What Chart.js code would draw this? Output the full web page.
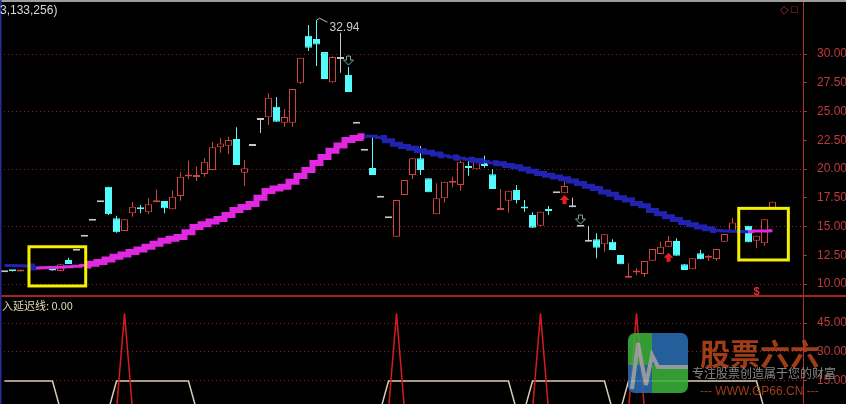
<!DOCTYPE html>
<html>
<head>
<meta charset="utf-8">
<script src="https://cdn.jsdelivr.net/npm/chart.js@4.4.1/dist/chart.umd.min.js"></script>
<style>
  html, body { margin: 0; padding: 0; background: #000; overflow: hidden; }
  #wrap { position: relative; width: 846px; height: 404px; background: #000; font-family: "Liberation Sans", Arial, sans-serif; }
  #main { position: absolute; left: 0; top: 0; }
  #sub { position: absolute; left: 0; top: 297px; }
  .txt { position: absolute; white-space: nowrap; line-height: 1; }
</style>
</head>
<body>
<div id="wrap">
  <canvas id="main" width="846" height="297"></canvas>
  <canvas id="sub" width="846" height="107"></canvas>
  <div class="txt" style="left:0;top:4px;color:#d8d8d8;font-size:12px;">3,133,256)</div>
  <div class="txt" style="left:780px;top:4px;color:#c03030;font-size:11px;">◇ □</div>
  <div class="txt" style="left:2px;top:300px;color:#e4dcb8;font-size:11px;font-family:'Noto Sans CJK SC';">入延迟线: 0.00</div>

  <!-- watermark -->
  <div id="wm" style="position:absolute;left:628px;top:333px;width:215px;height:66px;opacity:0.88;">
    <div style="position:absolute;left:0;top:0;width:60px;height:60px;border-radius:7px;overflow:hidden;">
      <div style="position:absolute;left:0;top:0;width:24px;height:32px;background:#3cb03c;"></div>
      <div style="position:absolute;left:24px;top:0;width:36px;height:32px;background:#2a6db2;"></div>
      <div style="position:absolute;left:0;top:32px;width:24px;height:28px;background:#2a6db2;"></div>
      <div style="position:absolute;left:24px;top:32px;width:36px;height:28px;background:#3cb03c;"></div>
      <svg width="60" height="60" style="position:absolute;left:0;top:0;">
        <polyline points="4,56 10,10 18,52 24,22 30,34 60,34" fill="none" stroke="#a8b0b0" stroke-width="4"/>
      </svg>
    </div>
    <div class="txt" style="left:72px;top:4px;font-size:30px;font-weight:bold;color:#b8461a;font-family:'Noto Sans CJK SC';">股票六六</div>
    <div class="txt" style="left:64px;top:34px;font-size:12px;color:#9a9a9a;font-family:'Noto Sans CJK SC';">专注股票创造属于您的财富</div>
    <div class="txt" style="left:72px;top:52px;font-size:12px;color:#b8461a;">--- WWW.GP66.CN ---</div>
  </div>
</div>

<script>
// ---- data ----
const openP = [11.02, 11.16, 11.08, null, 11.28, 11.38, 11.25, 11.13, 12.09, 12.90,
  14.11, 15.50, 17.10, 18.46, 15.71, 14.60, 16.15, 16.54, 16.23, 17.12,
  17.22, 16.50, 17.65, 19.35, 19.30, 19.57, 19.91, 21.89, 22.03, 22.61,
  19.68, 22.00, 24.26, 24.50, 25.42, 24.03, 24.03, 27.50, 31.59, 31.30,
  30.17, 27.54, 29.57, 28.17, 23.94, 21.59, 20.09, 17.50, 15.71, 14.11,
  17.74, 19.48, 20.93, 19.19, 16.06, 17.45, 18.80, 18.61, 20.14, 19.97,
  20.58, 19.54, 16.43, 17.24, 18.17, 16.60, 16.00, 15.07, 16.39, 17.89,
  17.89, 16.67, 14.98, 13.68, 13.89, 13.45, 13.68, 12.52, 10.55, 11.00,
  10.87, 12.03, 12.61, 13.24, 13.74, 11.71, 11.28, 12.67, 12.28, 12.17,
  13.68, 14.61, null, 15.07, 13.77, 13.54, 16.58];
const highP = [11.02, 11.18, 11.20, null, 11.28, 11.40, 11.30, 11.71, 12.29, 12.90,
  14.11, 15.50, 17.10, 18.46, 15.94, 15.65, 17.13, 16.87, 17.45, 18.23,
  17.22, 18.11, 19.71, 20.72, 20.20, 20.93, 22.37, 22.72, 22.81, 23.63,
  20.78, 22.00, 24.26, 26.60, 26.26, 25.22, 26.96, 29.68, 32.52, 32.94,
  30.17, 29.80, 31.85, 28.87, 23.94, 21.59, 22.81, 17.50, 15.71, 17.30,
  19.04, 20.93, 22.00, 19.19, 18.76, 18.90, 19.33, 20.72, 20.70, 20.58,
  21.16, 19.97, 18.26, 18.11, 18.61, 17.30, 16.23, 16.29, 16.78, 17.89,
  19.19, 17.50, 14.98, 15.04, 14.41, 14.32, 13.89, 12.52, 11.80, 11.37,
  12.00, 13.04, 13.68, 14.17, 13.98, 11.71, 12.23, 12.96, 12.52, 13.04,
  14.35, 15.77, null, 15.07, 14.20, 15.63, 17.16];
const lowP = [11.02, 11.08, 11.08, null, 11.28, 11.30, 11.15, 11.10, 11.74, 12.90,
  14.11, 15.50, 17.10, 16.00, 14.45, 14.60, 15.85, 16.15, 16.09, 17.10,
  16.15, 16.50, 17.24, 19.13, 18.96, 19.33, 19.90, 21.42, 21.28, 20.35,
  18.52, 22.00, 23.13, 23.83, 24.11, 23.68, 23.68, 27.39, 30.26, 28.96,
  27.83, 27.50, 28.37, 26.70, 23.94, 21.59, 19.48, 17.50, 15.71, 14.11,
  17.74, 19.13, 19.48, 17.97, 16.06, 17.07, 18.41, 18.11, 19.42, 19.97,
  20.11, 18.26, 16.43, 16.20, 17.00, 16.29, 14.90, 15.07, 16.00, 17.89,
  17.89, 16.67, 14.98, 13.68, 12.23, 12.80, 12.96, 11.71, 10.55, 10.78,
  10.63, 12.03, 12.61, 13.24, 12.46, 11.22, 11.28, 12.15, 12.00, 12.03,
  13.68, 14.61, null, 13.63, 13.10, 13.30, 16.58];
const closeP = [11.02, 11.10, 11.20, null, 11.28, 11.34, 11.18, 11.71, 11.74, 12.90,
  14.11, 15.50, 17.10, 16.06, 14.50, 15.63, 16.72, 16.50, 16.93, 17.20,
  16.58, 17.59, 19.33, 19.50, 19.38, 20.63, 21.89, 22.23, 22.52, 20.35,
  20.06, 22.00, 24.26, 26.20, 24.11, 24.52, 26.96, 29.68, 30.55, 30.84,
  27.83, 29.74, 29.57, 26.70, 23.94, 21.59, 19.48, 17.50, 15.71, 17.30,
  19.04, 20.93, 19.91, 17.97, 17.45, 18.90, 18.88, 20.58, 20.08, 20.58,
  20.26, 18.26, 16.48, 18.11, 17.30, 16.56, 14.90, 16.29, 16.35, 17.89,
  18.52, 16.67, 14.98, 13.68, 13.16, 14.32, 12.96, 11.71, 10.60, 11.04,
  12.00, 13.04, 13.24, 13.74, 12.46, 11.22, 12.23, 12.15, 12.32, 13.04,
  14.35, 15.36, null, 13.63, 14.20, 15.63, 17.16];
// moving line (magenta while rising, blue while falling)
const trendLine = [11.60, 11.60, 11.58, 11.56, 11.40, 11.42, 11.44, 11.46, 11.50, 11.54,
  11.62, 11.76, 11.91, 12.14, 12.37, 12.57, 12.78, 13.00, 13.24, 13.50,
  13.77, 13.93, 14.09, 14.50, 14.96, 15.20, 15.43, 15.65, 16.00, 16.43,
  16.70, 16.96, 17.50, 18.09, 18.30, 18.46, 18.90, 19.40, 19.91, 20.52,
  21.05, 21.59, 22.05, 22.52, 22.70, 22.85, 22.84, 22.75, 22.45, 22.15,
  21.95, 21.80, 21.60, 21.45, 21.30, 21.15, 21.05, 20.93, 20.85, 20.75,
  20.65, 20.55, 20.45, 20.30, 20.20, 20.00, 19.80, 19.60, 19.45, 19.30,
  19.15, 18.95, 18.75, 18.50, 18.30, 18.00, 17.80, 17.50, 17.30, 17.00,
  16.80, 16.40, 16.10, 15.85, 15.60, 15.35, 15.15, 14.95, 14.80, 14.65,
  14.60, 14.58, 14.56, 14.55, 14.60, 14.62, 14.64];
// lower panel
const spikeLine = [0, 0, 0, 0, 0, 0, 0, 0, 0, 0,
  0, 0, 0, 0, 0, 50, 0, 0, 0, 0,
  0, 0, 0, 0, 0, 0, 0, 0, 0, 0,
  0, 0, 0, 0, 0, 0, 0, 0, 0, 0,
  0, 0, 0, 0, 0, 0, 0, 0, 0, 50,
  0, 0, 0, 0, 0, 0, 0, 0, 0, 0,
  0, 0, 0, 0, 0, 0, 0, 50, 0, 0,
  0, 0, 0, 0, 0, 0, 0, 0, 0, 50,
  0, 0, 0, 0, 0, 0, 0, 0, 0, 0,
  0, 0, 0, 0, 0, 0, 0];
const delayLine = [15, 15, 15, 15, 15, 15, 15, 0, 0, 0,
  0, 0, 0, 0, 15, 15, 15, 15, 15, 15,
  15, 15, 15, 15, 0, 0, 0, 0, 0, 0,
  0, 0, 0, 0, 0, 0, 0, 0, 0, 0,
  0, 0, 0, 0, 0, 0, 0, 0, 15, 15,
  15, 15, 15, 15, 15, 15, 15, 15, 15, 15,
  15, 15, 15, 15, 0, 0, 15, 15, 15, 15,
  15, 15, 15, 15, 15, 15, 0, 0, 15, 15,
  15, 15, 15, 15, 15, 15, 15, 15, 15, 15,
  15, 15, 15, 15, 15, 0, 0];

const mainTicks = [10, 12.5, 15, 17.5, 20, 22.5, 25, 27.5, 30];
const mainGrid = [10, 15, 20, 25, 30];
const subTicks = [15, 30, 45];

const upArrowIdx = [70, 83];
const upArrowTip = [17.74, 12.72];
const downArrowIdx = [43, 72];
const downArrowTip = [29.04, 15.22];
const peakIdx = 39;
const dollarIdx = 94;
// highlighted ranges: [from index, to index, low price, high price]
const boxes = [[3.06, 10.15, 9.83, 13.24], [91.78, 97.98, 12.09, 16.58]];

// ---- colours ----
const RED = '#d04444', CYAN = '#54fcfc', GRAY = '#c8c8c8';
const MAGENTA = '#e028e0', BLUE = '#2222b0';

const days = openP.map((v, i) => i).filter(i => openP[i] !== null);
const kind = i => closeP[i] > openP[i] ? 'up' : (closeP[i] < openP[i] ? 'down' : 'flat');
const lineCol = i => ({up: RED, down: CYAN, flat: GRAY})[kind(i)];

const xScale = {type: 'linear', display: false, offset: false, min: -0.5625, max: 99.8125};

function yAxis(min, max, ticksArr, gridArr) {
  return {
    type: 'linear', position: 'right', min: min, max: max,
    afterBuildTicks: s => { s.ticks = ticksArr.map(v => ({value: v})); },
    afterFit: s => { s.width = 43; s.paddingTop = 0; s.paddingBottom = 0; },
    ticks: {color: '#c03a3a', font: {family: 'Liberation Sans', size: 12}, padding: 10,
            callback: v => Number(v).toFixed(2)},
    grid: {color: c => (c.tick && gridArr.includes(c.tick.value)) ? '#8c2222' : 'rgba(0,0,0,0)',
           tickColor: '#b03030', tickLength: 4, lineWidth: 1},
    border: {color: '#b03030', width: 1, dash: [1, 3]}
  };
}

const framePlugin = {
  id: 'frame',
  afterDraw(chart, args, opts) {
    const {ctx, chartArea: a} = chart;
    ctx.save();
    ctx.setLineDash([]);
    if (opts.top) {
      ctx.strokeStyle = '#9c9c9c'; ctx.lineWidth = 2;
      ctx.beginPath(); ctx.moveTo(0, 1); ctx.lineTo(chart.width, 1); ctx.stroke();
    }
    if (opts.bottom) {
      ctx.strokeStyle = '#a82222'; ctx.lineWidth = 2;
      ctx.beginPath(); ctx.moveTo(0, a.bottom - 1); ctx.lineTo(chart.width, a.bottom - 1); ctx.stroke();
    }
    ctx.strokeStyle = '#2a2aa0'; ctx.lineWidth = 1.5;
    ctx.beginPath(); ctx.moveTo(0.75, 0); ctx.lineTo(0.75, chart.height); ctx.stroke();
    ctx.restore();
  }
};

const marksPlugin = {
  id: 'marks',
  afterDatasetsDraw(chart) {
    const {ctx, scales: {x, y}} = chart;
    ctx.save();
    // red up arrows
    ctx.fillStyle = '#e42020';
    upArrowIdx.forEach((d, k) => {
      const px = x.getPixelForValue(d), py = y.getPixelForValue(upArrowTip[k]);
      ctx.beginPath();
      ctx.moveTo(px, py); ctx.lineTo(px + 5, py + 5); ctx.lineTo(px + 2, py + 5);
      ctx.lineTo(px + 2, py + 9); ctx.lineTo(px - 2, py + 9); ctx.lineTo(px - 2, py + 5);
      ctx.lineTo(px - 5, py + 5); ctx.closePath(); ctx.fill();
    });
    // hollow down arrows
    ctx.strokeStyle = '#7ea894'; ctx.lineWidth = 1;
    downArrowIdx.forEach((d, k) => {
      const px = x.getPixelForValue(d), py = y.getPixelForValue(downArrowTip[k]);
      ctx.beginPath();
      ctx.moveTo(px, py); ctx.lineTo(px + 5, py - 5); ctx.lineTo(px + 2, py - 5);
      ctx.lineTo(px + 2, py - 9); ctx.lineTo(px - 2, py - 9); ctx.lineTo(px - 2, py - 5);
      ctx.lineTo(px - 5, py - 5); ctx.closePath(); ctx.stroke();
    });
    // peak label
    const hx = x.getPixelForValue(peakIdx), hy = y.getPixelForValue(highP[peakIdx]);
    ctx.strokeStyle = '#bcbcbc'; ctx.lineWidth = 1;
    ctx.beginPath(); ctx.moveTo(hx, hy); ctx.lineTo(hx + 3, hy - 2); ctx.lineTo(hx + 11, hy + 2); ctx.stroke();
    ctx.fillStyle = '#c8c8c8';
    ctx.font = '12px "Liberation Sans"';
    ctx.textBaseline = 'middle'; ctx.textAlign = 'left';
    ctx.fillText(highP[peakIdx].toFixed(2), hx + 13, hy + 7);
    // dollar sign
    ctx.fillStyle = '#e03030';
    ctx.font = 'bold 11px "Liberation Sans"';
    ctx.textAlign = 'center';
    ctx.fillText('$', x.getPixelForValue(dollarIdx), chart.chartArea.bottom - 5);
    // yellow boxes
    ctx.strokeStyle = '#f4f000'; ctx.lineWidth = 3;
    boxes.forEach(b => {
      const x0 = x.getPixelForValue(b[0]), x1 = x.getPixelForValue(b[1]);
      const y0 = y.getPixelForValue(b[3]), y1 = y.getPixelForValue(b[2]);
      ctx.strokeRect(x0, y0, x1 - x0, y1 - y0);
    });
    ctx.restore();
  }
};

new Chart(document.getElementById('main'), {
  type: 'bar',
  data: {
    datasets: [
      {
        type: 'line', order: 0,
        data: trendLine.map((v, i) => ({x: i, y: v})),
        stepped: 'middle', pointRadius: 0, borderWidth: 5, borderColor: MAGENTA,
        segment: {
          borderColor: c => c.p1.parsed.y > c.p0.parsed.y ? MAGENTA : BLUE,
          borderWidth: c => {
            const d = c.p1.parsed.y - c.p0.parsed.y;
            if (Math.abs(d) < 0.1) return 3;
            return d > 0 ? 6 : 5;
          }
        }
      },
      {
        order: 1, grouped: false, barPercentage: 0.875, categoryPercentage: 1,
        data: days.map(i => ({x: i, y: [openP[i], closeP[i]]})),
        backgroundColor: days.map(i => kind(i) === 'up' ? '#000000' : lineCol(i)),
        borderColor: days.map(i => lineCol(i)),
        borderWidth: 1, borderSkipped: false, minBarLength: 2
      },
      {
        order: 2, grouped: false, barPercentage: 0.125, categoryPercentage: 1,
        data: days.map(i => ({x: i, y: [lowP[i], highP[i]]})),
        backgroundColor: days.map(i => lineCol(i)),
        borderWidth: 0
      }
    ]
  },
  options: {
    responsive: false, animation: false,
    layout: {padding: 0},
    plugins: {legend: {display: false}, tooltip: {enabled: false}, frame: {top: true, bottom: true}},
    scales: {x: xScale, y: yAxis(8.87, 34.70, mainTicks, mainGrid)}
  },
  plugins: [framePlugin, marksPlugin]
});

new Chart(document.getElementById('sub'), {
  type: 'line',
  data: {
    datasets: [
      {data: spikeLine.map((v, i) => ({x: i, y: v})), borderColor: '#d41c1c', borderWidth: 1.5, pointRadius: 0, order: 0},
      {data: delayLine.map((v, i) => ({x: i, y: v})), borderColor: '#d8cbb2', borderWidth: 1.5, pointRadius: 0, order: 1}
    ]
  },
  options: {
    responsive: false, animation: false,
    layout: {padding: 0},
    plugins: {legend: {display: false}, tooltip: {enabled: false}, frame: {top: false, bottom: false}},
    scales: {x: xScale, y: yAxis(3.1, 58.45, subTicks, subTicks)}
  },
  plugins: [framePlugin]
});
</script>
</body>
</html>
